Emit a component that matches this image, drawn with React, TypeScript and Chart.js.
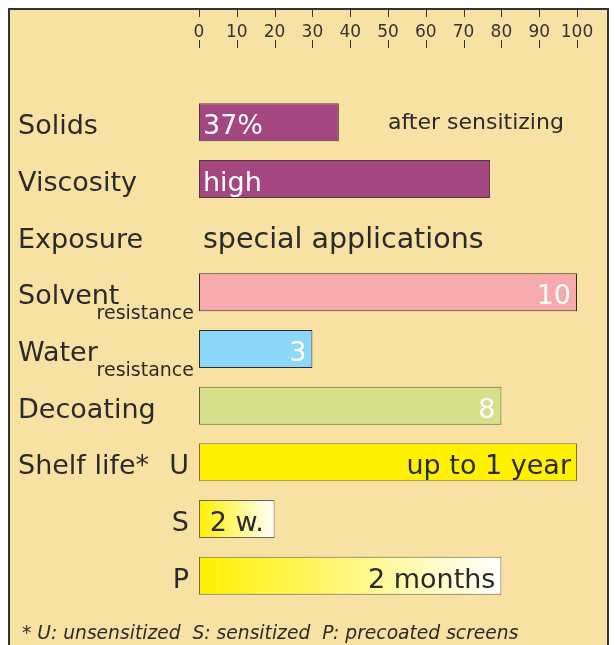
import { useEffect, useRef } from "react";
import { Chart, registerables } from "chart.js";

Chart.register(...registerables);

// ---- data ----
const categories = ["Solids", "Viscosity", "Exposure", "Solvent", "Water", "Decoating", "Shelf life*", "", ""];
const subLabels = ["", "", "", "resistance", "resistance", "", "", "", ""];
const shelfKeys = ["", "", "", "", "", "", "U", "S", "P"];
const values: (number | null)[] = [37, 77, null, 100, 30, 80, 100, 20, 80];
const barTexts = ["37%", "high", "special applications", "10", "3", "8", "up to 1 year", "2 w.", "2 months"];
const barTextAlign = ["left", "left", "left", "right", "right", "right", "right", "center", "right"];
const barTextLight = [true, true, false, true, true, true, false, false, false];
const notes = ["after sensitizing", "", "", "", "", "", "", "", ""];
const noteValue = 50;
const fills = ["#A4467F", "#A4467F", "", "#F7AAAB", "#8DD8F8", "#D4E08A", "#FFF100", "fade", "fade"];
const borders = ["#4a3a3e", "#4a3a3e", "", "#2b2b2b", "#2b2b2b", "#5c6238", "#7a7540", "#666666", "#666666"];
const xMin = 0;
const xMax = 100;
const xStep = 10;
const footnote = "* U: unsensitized  S: sensitized  P: precoated screens";

const FONT = "'DejaVu Sans', sans-serif";
const BG = "#F7E1A3";
const DARK = "#2a2a2a";

const decorPlugin = {
  id: "decor",
  beforeDraw(chart: any) {
    const ctx = chart.ctx as CanvasRenderingContext2D;
    const W = chart.width;
    const H = chart.height;
    ctx.save();
    ctx.fillStyle = "#ffffff";
    ctx.fillRect(0, 0, W, H);
    ctx.fillStyle = BG;
    ctx.fillRect(8, 8, 601, H);
    ctx.strokeStyle = "#333";
    ctx.lineWidth = 2;
    ctx.beginPath();
    ctx.moveTo(9, H + 4);
    ctx.lineTo(9, 9);
    ctx.lineTo(608, 9);
    ctx.lineTo(608, H + 4);
    ctx.stroke();
    // cross tick marks above and below labels
    const xs = chart.scales.x;
    ctx.lineWidth = 1;
    ctx.strokeStyle = "#333";
    ctx.beginPath();
    xs.ticks.forEach((_t: any, i: number) => {
      const px = Math.round(xs.getPixelForTick(i)) + 0.5;
      ctx.moveTo(px, 10);
      ctx.lineTo(px, 17);
      ctx.moveTo(px, 40);
      ctx.lineTo(px, 48);
    });
    ctx.stroke();
    ctx.restore();
  },
  afterDatasetsDraw(chart: any) {
    const ctx = chart.ctx as CanvasRenderingContext2D;
    const xs = chart.scales.x;
    const ys = chart.scales.y;
    const left = chart.chartArea.left;
    ctx.save();
    ctx.textBaseline = "alphabetic";
    categories.forEach((lab, i) => {
      const cy = ys.getPixelForValue(i);
      ctx.fillStyle = DARK;
      ctx.font = `27px ${FONT}`;
      ctx.textAlign = "left";
      if (lab) ctx.fillText(lab, 18, cy + 12);
      if (shelfKeys[i]) {
        ctx.textAlign = "right";
        ctx.fillText(shelfKeys[i], left - 10, cy + 12);
      }
      if (subLabels[i]) {
        ctx.font = `19px ${FONT}`;
        ctx.textAlign = "right";
        ctx.fillText(subLabels[i], left - 5, cy + 27);
      }
      // bar texts
      const txt = barTexts[i];
      if (txt) {
        const v = values[i];
        const x0 = xs.getPixelForValue(0);
        const x1 = v == null ? x0 : xs.getPixelForValue(v);
        ctx.font = v == null ? `28.5px ${FONT}` : `27px ${FONT}`;
        ctx.fillStyle = barTextLight[i] ? "#ffffff" : DARK;
        const al = barTextAlign[i];
        ctx.textAlign = al as CanvasTextAlign;
        const tx = al === "left" ? x0 + 4 : al === "right" ? x1 - 6 : (x0 + x1) / 2;
        ctx.fillText(txt, tx, cy + 12);
      }
      if (notes[i]) {
        ctx.font = `22px ${FONT}`;
        ctx.fillStyle = DARK;
        ctx.textAlign = "left";
        ctx.fillText(notes[i], xs.getPixelForValue(noteValue), cy + 7);
      }
    });
    ctx.font = `italic 18.7px ${FONT}`;
    ctx.fillStyle = DARK;
    ctx.textAlign = "left";
    ctx.fillText(footnote, 22, 639);
    ctx.restore();
  },
};

export default function App() {
  const ref = useRef<HTMLCanvasElement | null>(null);
  useEffect(() => {
    if (!ref.current) return;
    const chart = new Chart(ref.current, {
      type: "bar",
      data: {
        labels: categories,
        datasets: [
          {
            data: values as any,
            backgroundColor: (c: any) => {
              const i = c.dataIndex;
              const f = fills[i];
              if (f !== "fade") return f || "transparent";
              const ch = c.chart;
              const xs = ch.scales?.x;
              if (!xs || !ch.chartArea) return "#FFF100";
              const v = values[i] ?? 0;
              const g = ch.ctx.createLinearGradient(xs.getPixelForValue(0), 0, xs.getPixelForValue(v), 0);
              g.addColorStop(0, "#FFF000");
              g.addColorStop(1, "#FFFFFF");
              return g;
            },
            borderColor: borders,
            borderWidth: 1,
            borderSkipped: false,
            barPercentage: 0.67,
            categoryPercentage: 1,
          } as any,
        ],
      },
      options: {
        indexAxis: "y",
        responsive: false,
        animation: false,
        devicePixelRatio: 1,
        layout: { padding: { left: 199, right: 38, top: 0, bottom: 41 } },
        plugins: {
          legend: { display: false },
          tooltip: { enabled: false },
          title: { display: false },
        },
        scales: {
          x: {
            position: "top",
            min: xMin,
            max: xMax,
            ticks: {
              stepSize: xStep,
              padding: 51,
              maxRotation: 0,
              minRotation: 0,
              autoSkip: false,
              color: "#333",
              font: { family: FONT, size: 17 },
            },
            grid: { display: false, drawTicks: false },
            border: { display: false },
            afterFit: (s: any) => {
              s.height = 94;
              s.paddingLeft = 0;
              s.paddingRight = 0;
            },
          },
          y: { display: false },
        },
      } as any,
      plugins: [decorPlugin],
    });
    return () => chart.destroy();
  }, []);
  return (
    <div style={{ position: "fixed", left: 0, top: 0, width: 615, height: 645 }}>
      <canvas ref={ref} width={615} height={645} style={{ display: "block" }} />
    </div>
  );
}
